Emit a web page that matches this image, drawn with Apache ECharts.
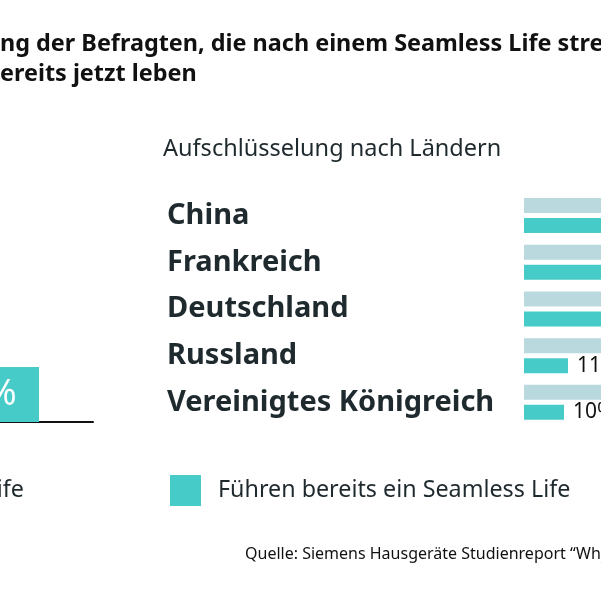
<!DOCTYPE html>
<html><head><meta charset="utf-8">
<script src="https://cdn.jsdelivr.net/npm/echarts@6/dist/echarts.min.js"></script>
<style>html,body{margin:0;padding:0;background:#fff;overflow:hidden}#c{width:601px;height:601px}</style>
</head><body><div id="c"></div>
<script>
// ---- data ----
const countries = ['China', 'Frankreich', 'Deutschland', 'Russland', 'Vereinigtes Königreich'];
const strebenValues = [45, 37, 33, 40, 36];
const fuehrenValues = [27, 21, 20, 11, 10];
const overallCategories = ['Streben', 'Führen'];
const overallStreben = [36, '-'];
const overallFuehren = ['-', 18];
const seriesNames = ['Streben nach einem Seamless Life', 'Führen bereits ein Seamless Life'];
const titleLine1 = 'Verteilung der Befragten, die nach einem Seamless Life streben,';
const titleLine1Hidden = 'Verteilu';
const titleLine2 = 'bereits jetzt leben';
const titleLine2Hidden = 'b';
const subtitle = 'Aufschlüsselung nach Ländern';
const sourceText = 'Quelle: Siemens Hausgeräte Studienreport “Why Seamless Life”';

const FONT = '"Noto Sans", "Open Sans", sans-serif';
const TEAL = '#47cbc9';
const LIGHT = '#b9d9df';
const DARK = '#1f2a2e';

function measure(txt, font) {
  const c = document.createElement('canvas').getContext('2d');
  c.font = font;
  return c.measureText(txt).width;
}
const titleFont = 'bold 23.4px "Noto Sans"';
const t1x = -measure(titleLine1Hidden, titleFont);
const t2x = -measure(titleLine2Hidden, titleFont);

const chart = echarts.init(document.getElementById('c'), null, {renderer: 'canvas'});
chart.setOption({
  backgroundColor: '#fff',
  animation: false,
  textStyle: {fontFamily: FONT},
  legend: [
    {
      data: [seriesNames[0]], right: 577, top: 475, padding: 0,
      icon: 'rect', itemWidth: 31, itemHeight: 31,
      textStyle: {fontSize: 23.3, color: DARK, fontFamily: FONT, padding: [0, 0, 0, 12]},
      selectedMode: false
    },
    {
      data: [seriesNames[1]], left: 170, top: 475, padding: 0,
      icon: 'rect', itemWidth: 31, itemHeight: 31,
      textStyle: {fontSize: 23.3, color: DARK, fontFamily: FONT, padding: [0, 0, 0, 12]},
      selectedMode: false
    }
  ],
  grid: [
    {left: 524, top: 192.2, width: 400, height: 233.5, outerBoundsMode: 'none', containLabel: false},
    {left: -355, top: 116, width: 448, height: 306, outerBoundsMode: 'none', containLabel: false}
  ],
  xAxis: [
    {gridIndex: 0, type: 'value', min: 0, max: 100, show: false},
    {gridIndex: 1, type: 'category', data: overallCategories,
      axisLine: {lineStyle: {color: '#111', width: 2}}, axisTick: {show: false}, axisLabel: {show: false}}
  ],
  yAxis: [
    {gridIndex: 0, type: 'category', data: countries, inverse: true,
      axisLine: {show: false}, axisTick: {show: false},
      axisLabel: {align: 'left', margin: 357, fontSize: 29, fontWeight: 'bold', color: DARK, fontFamily: FONT}},
    {gridIndex: 1, type: 'value', min: 0, max: 100, show: false}
  ],
  series: [
    {name: seriesNames[0], type: 'bar', xAxisIndex: 0, yAxisIndex: 0, data: strebenValues,
      barWidth: 15, barGap: '33.3%', itemStyle: {color: LIGHT},
      label: {show: true, position: 'right', distance: 9, formatter: '{c}%', fontSize: 21, color: '#111', fontFamily: FONT}},
    {name: seriesNames[1], type: 'bar', xAxisIndex: 0, yAxisIndex: 0, data: fuehrenValues,
      barWidth: 15, barGap: '33.3%', itemStyle: {color: TEAL},
      label: {show: true, position: 'right', distance: 9, formatter: '{c}%', fontSize: 21, color: '#111', fontFamily: FONT}},
    {name: seriesNames[0], type: 'bar', xAxisIndex: 1, yAxisIndex: 1, data: overallStreben, stack: 'overall',
      barWidth: 116, itemStyle: {color: LIGHT},
      label: {show: true, position: 'inside', formatter: '{c}%', fontSize: 36, color: '#fff', fontFamily: FONT}},
    {name: seriesNames[1], type: 'bar', xAxisIndex: 1, yAxisIndex: 1, data: overallFuehren, stack: 'overall',
      barWidth: 116, itemStyle: {color: TEAL},
      label: {show: true, position: 'inside', formatter: '{c}%', fontSize: 36, color: '#fff', fontFamily: FONT}}
  ],
  graphic: [
    {type: 'text', left: t1x, top: 33, style: {text: titleLine1, font: titleFont, fill: '#111'}},
    {type: 'text', left: t2x, top: 63, style: {text: titleLine2, font: titleFont, fill: '#111'}},
    {type: 'text', left: 163, top: 137, style: {text: subtitle, font: '23.5px "Noto Sans"', fill: DARK}},
    {type: 'text', left: 245, top: 546, style: {text: sourceText, font: '16px "Noto Sans"', fill: '#111'}}
  ]
});
</script>
</body></html>
